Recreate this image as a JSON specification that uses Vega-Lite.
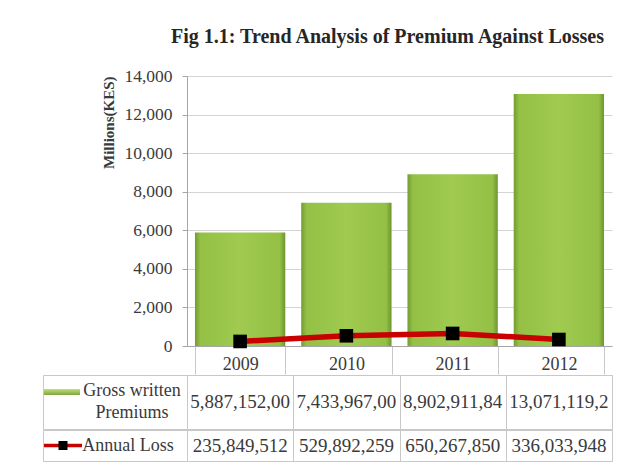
{
  "$schema": "https://vega.github.io/schema/vega-lite/v6.json",
  "padding": {"left": 42, "top": 27, "right": 5, "bottom": 5},
  "background": "white",
  "config": {
    "view": {"stroke": null},
    "font": "Liberation Serif",
    "text": {"font": "Liberation Serif", "color": "#3a3a3a"},
    "axis": {"labelFont": "Liberation Serif", "titleFont": "Liberation Serif", "labelColor": "#3a3a3a", "titleColor": "#3a3a3a"},
    "axisY": {"values": [0, 2000, 4000, 6000, 8000, 10000, 12000, 14000], "format": ",.0f", "grid": true, "gridColor": "#d4d4d4", "tickColor": "#a6a6a6", "domainColor": "#a6a6a6", "tickSize": 5, "labelPadding": 10, "labelFontSize": 17.5, "titleFontSize": 15, "titleFontWeight": "bold", "titleAnchor": "end", "titlePadding": 7, "labelOverlap": false}
  },
  "datasets": {
    "years": [
      {"year": "2009", "premium": 5887.152, "loss": 235.849512, "premium_text": "5,887,152,00", "loss_text": "235,849,512"},
      {"year": "2010", "premium": 7433.967, "loss": 529.892259, "premium_text": "7,433,967,00", "loss_text": "529,892,259"},
      {"year": "2011", "premium": 8902.91184, "loss": 650.26785, "premium_text": "8,902,911,84", "loss_text": "650,267,850"},
      {"year": "2012", "premium": 13071.1192, "loss": 336.033948, "premium_text": "13,071,119,2", "loss_text": "336,033,948"}
    ],
    "gross_label": [{"label": "Gross written\nPremiums"}],
    "loss_label": [{"label": "Annual Loss"}],
    "none": []
  },
  "bounds": "full",
  "spacing": -3,
  "vconcat": [
    {
      "bounds": "flush",
      "spacing": 0,
      "hconcat": [
        {"width": 144, "height": 270, "data": {"name": "none"}, "mark": "point", "encoding": {}},
        {
          "width": 425,
          "height": 270,
          "title": {"text": "Fig 1.1: Trend Analysis of Premium Against Losses", "frame": "group", "anchor": "middle", "dx": -12, "offset": 20, "font": "Liberation Serif", "fontSize": 20, "fontWeight": "bold", "color": "#262626"},
          "data": {"name": "years"},
          "encoding": {
            "x": {"field": "year", "type": "ordinal", "scale": {"type": "band", "paddingInner": 0.15, "paddingOuter": 0.075},
              "axis": {"title": null, "labelAngle": 0, "tickBand": "extent", "tickSize": 28, "tickColor": "#c8c8c8", "domainColor": "#a6a6a6", "labelPadding": -19, "labelFontSize": 18, "grid": false}}
          },
          "layer": [
            {
              "mark": {"type": "bar", "fill": {"gradient": "linear", "x1": 0, "y1": 0, "x2": 1, "y2": 0, "stops": [
                {"offset": 0, "color": "#729d30"}, {"offset": 0.06, "color": "#94c046"}, {"offset": 0.5, "color": "#a0ca50"}, {"offset": 0.94, "color": "#94c046"}, {"offset": 1, "color": "#6d952e"}]}},
              "encoding": {
                "y": {"field": "premium", "type": "quantitative", "title": "Millions(KES)", "scale": {"domain": [0, 14000]}}
              }
            },
            {
              "mark": {"type": "line", "color": "#c80000", "strokeWidth": 5.5},
              "encoding": {"y": {"field": "loss", "type": "quantitative", "title": "Millions(KES)"}}
            },
            {
              "mark": {"type": "point", "shape": "square", "filled": true, "color": "black", "opacity": 1, "size": 185},
              "encoding": {"y": {"field": "loss", "type": "quantitative", "title": "Millions(KES)"}}
            }
          ]
        }
      ]
    },
    {
      "bounds": "flush",
      "spacing": 0,
      "hconcat": [
        {
          "width": 144, "height": 54,
          "view": {"stroke": "#c8c8c8"},
          "data": {"name": "gross_label"},
          "layer": [
            {"mark": {"type": "text", "align": "center", "dx": 17, "dy": -11, "fontSize": 18, "lineBreak": "\n", "lineHeight": 22}, "encoding": {"text": {"field": "label"}}},
            {"mark": {"type": "point", "shape": "M-1,-0.17H1V0.17H-1Z", "size": 1296, "filled": true, "opacity": 1, "strokeWidth": 0, "xOffset": -53, "yOffset": -10,
              "fill": {"gradient": "linear", "x1": 0, "y1": 0, "x2": 0, "y2": 1, "stops": [{"offset": 0, "color": "#c4e07c"}, {"offset": 1, "color": "#7ea43a"}]}}, "encoding": {}}
          ]
        },
        {
          "width": 425, "height": 54,
          "view": {"stroke": "#c8c8c8"},
          "data": {"name": "years"},
          "mark": {"type": "text", "fontSize": 19},
          "encoding": {
            "x": {"field": "year", "type": "ordinal", "scale": {"type": "band", "paddingInner": 0, "paddingOuter": 0},
              "axis": {"grid": true, "tickBand": "extent", "gridColor": "#c8c8c8", "labels": false, "ticks": false, "domain": false, "title": null}},
            "text": {"field": "premium_text"}
          }
        }
      ]
    },
    {
      "bounds": "flush",
      "spacing": 0,
      "hconcat": [
        {
          "width": 144, "height": 31,
          "view": {"stroke": "#c8c8c8"},
          "data": {"name": "loss_label"},
          "layer": [
            {"mark": {"type": "text", "align": "center", "dx": 13, "fontSize": 18}, "encoding": {"text": {"field": "label"}}},
            {"mark": {"type": "point", "shape": "M-1,-0.09H1V0.09H-1Z", "size": 1444, "filled": true, "opacity": 1, "strokeWidth": 0, "fill": "#c80000", "xOffset": -52}, "encoding": {}},
            {"mark": {"type": "point", "shape": "square", "size": 81, "filled": true, "opacity": 1, "fill": "black", "strokeWidth": 0, "xOffset": -52}, "encoding": {}}
          ]
        },
        {
          "width": 425, "height": 31,
          "view": {"stroke": "#c8c8c8"},
          "data": {"name": "years"},
          "mark": {"type": "text", "fontSize": 19},
          "encoding": {
            "x": {"field": "year", "type": "ordinal", "scale": {"type": "band", "paddingInner": 0, "paddingOuter": 0},
              "axis": {"grid": true, "tickBand": "extent", "gridColor": "#c8c8c8", "labels": false, "ticks": false, "domain": false, "title": null}},
            "text": {"field": "loss_text"}
          }
        }
      ]
    }
  ]
}
